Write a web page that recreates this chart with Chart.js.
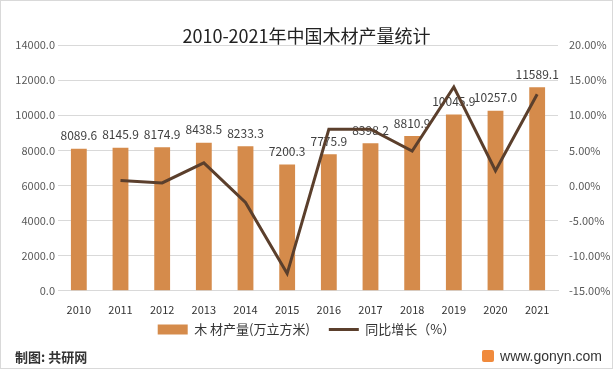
<!DOCTYPE html>
<html>
<head>
<meta charset="utf-8">
<script src="https://cdn.jsdelivr.net/npm/chart.js@4/dist/chart.umd.min.js"></script>
<style>
  html, body { margin: 0; padding: 0; background: #fff; }
  #wrap { position: relative; width: 613px; height: 369px; box-sizing: border-box; border: 1px solid #d9d9d9; }
  #wrap canvas { position: absolute; left: 0; top: 0; }
  .foot { position: absolute; top: 346px; font-family: "Noto Sans CJK SC", sans-serif; color: #333; }
  #src { left: 14px; font-size: 13px; font-weight: bold; }
  #site { right: 10px; font-size: 14px; font-family: "Liberation Sans", sans-serif; top: 347px; }
  #site i { display: inline-block; width: 12px; height: 12px; background: #f08a3c; border-radius: 2px; margin-right: 6px; vertical-align: -1px; }
</style>
</head>
<body>
<div id="wrap">
  <canvas id="chart" width="611" height="367"></canvas>
  <div class="foot" id="src">制图: 共研网</div>
  <div class="foot" id="site"><i></i>www.gonyn.com</div>
</div>
<script>
const years = ['2010', '2011', '2012', '2013', '2014', '2015', '2016', '2017', '2018', '2019', '2020', '2021'];
const output = [8089.6, 8145.9, 8174.9, 8438.5, 8233.3, 7200.3, 7775.9, 8398.2, 8810.9, 10045.9, 10257.0, 11589.1];
const growth = [null, 0.70, 0.36, 3.22, -2.43, -12.55, 7.99, 8.00, 4.91, 14.02, 2.10, 12.99];

const barColor = '#d58b4b';
const lineColor = '#5b3f2c';
const font = '"Noto Sans CJK SC", sans-serif';

// value labels above bars, drawn before the line so the line covers them
const barLabels = {
  id: 'barLabels',
  afterDatasetDraw(chart, args) {
    if (args.index !== 0) return;
    const ctx = chart.ctx;
    ctx.save();
    ctx.font = '12px ' + font;
    ctx.fillStyle = '#404040';
    ctx.textAlign = 'center';
    ctx.textBaseline = 'bottom';
    args.meta.data.forEach((bar, i) => {
      ctx.fillText(output[i].toFixed(1), bar.x, bar.y - 7);
    });
    ctx.restore();
  }
};

new Chart(document.getElementById('chart'), {
  data: {
    labels: years,
    datasets: [
      {
        type: 'bar',
        label: '木 材产量(万立方米)',
        data: output,
        backgroundColor: barColor,
        yAxisID: 'y',
        barPercentage: 0.76,
        categoryPercentage: 0.5,
        order: 2,
        pointStyle: 'rect'
      },
      {
        type: 'line',
        label: '同比增长（%）',
        data: growth,
        borderColor: lineColor,
        backgroundColor: lineColor,
        borderWidth: 3,
        pointRadius: 0,
        tension: 0,
        yAxisID: 'y1',
        order: 1,
        pointStyle: 'line'
      }
    ]
  },
  options: {
    responsive: false,
    animation: false,
    layout: { padding: { bottom: 22 } },
    plugins: {
      title: {
        display: true,
        text: '2010-2021年中国木材产量统计',
        color: '#222',
        font: { family: font, size: 18, weight: 'normal', lineHeight: 1 },
        padding: { top: 26, bottom: 0 }
      },
      legend: {
        position: 'bottom',
        labels: {
          usePointStyle: true,
          pointStyleWidth: 30,
          boxHeight: 10,
          color: '#333',
          font: { family: font, size: 13 },
          padding: 3,
          sort: (a, b) => a.datasetIndex - b.datasetIndex,
          generateLabels(chart) {
            const items = Chart.defaults.plugins.legend.labels.generateLabels(chart);
            // wider gap after the first item
            items.forEach(it => { if (it.datasetIndex === 0) it.text += '\u2003 '; });
            return items;
          }
        }
      },
      tooltip: { enabled: false }
    },
    scales: {
      x: {
        grid: { display: false },
        border: { color: '#d9d9d9' },
        ticks: { color: '#333', font: { family: font, size: 11 }, padding: 4 }
      },
      y: {
        position: 'left',
        min: 0,
        max: 14000,
        ticks: {
          stepSize: 2000,
          color: '#595959',
          font: { family: font, size: 11 },
          callback: v => v.toFixed(1)
        },
        grid: { color: '#d9d9d9', drawTicks: false },
        border: { display: false },
        afterFit(s) { s.width = 57; }
      },
      y1: {
        position: 'right',
        min: -15,
        max: 20,
        ticks: {
          stepSize: 5,
          color: '#595959',
          font: { family: font, size: 11 },
          callback: v => v.toFixed(2) + '%'
        },
        grid: { display: false },
        border: { display: false },
        afterFit(s) { s.width = 54; }
      }
    }
  },
  plugins: [barLabels]
});
</script>
</body>
</html>
